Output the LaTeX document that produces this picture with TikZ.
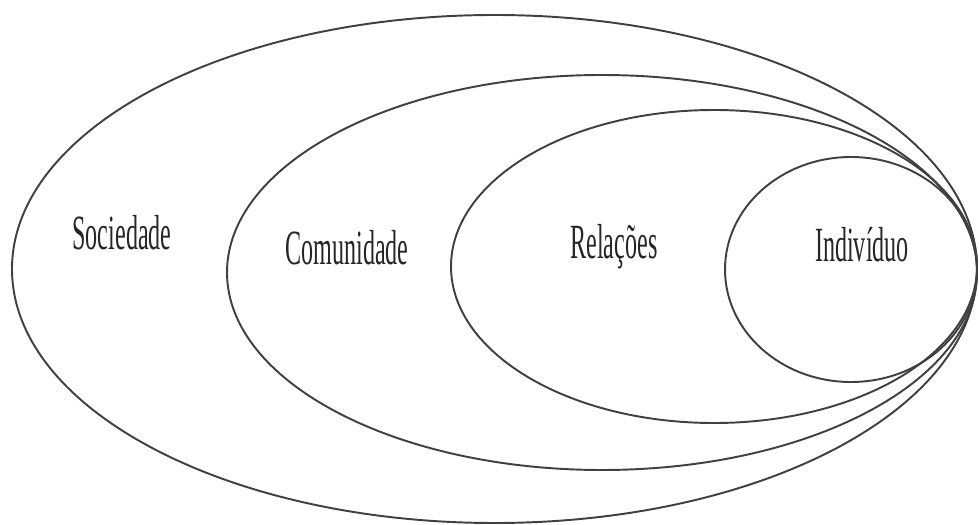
\documentclass[tikz,border=0pt]{standalone}
\usepackage{fontspec}
\newfontfamily\lblfont[FakeStretch=0.49]{Liberation Serif}
\tikzset{
  ring/.style={draw=black!75,line width=1.1pt},
  lbl/.style={anchor=base,inner sep=0pt,text=black!85,font=\lblfont\fontsize{28}{30}\selectfont}
}
\begin{document}
\begin{tikzpicture}[x=0.2mm,y=-0.2mm]
      \useasboundingbox (0,0) rectangle (979,525);
      \draw[ring] (494.5,269) ellipse [x radius=482.5,y radius=254];
      \draw[ring] (602,272.5) ellipse [x radius=375,y radius=197.5];
      \draw[ring] (714,266.5) ellipse [x radius=263,y radius=156.5];
      \draw[ring] (851,269.5) ellipse [x radius=126,y radius=112.5];
        \node[lbl] (soc) at (122,249) {Sociedade};
        \node[lbl] (com) at (347,264) {Comunidade};
        \node[lbl] (rel) at (614,259) {Relações};
        \node[lbl] (ind) at (862,261) {Indivíduo};
    \end{tikzpicture}
\end{document}
